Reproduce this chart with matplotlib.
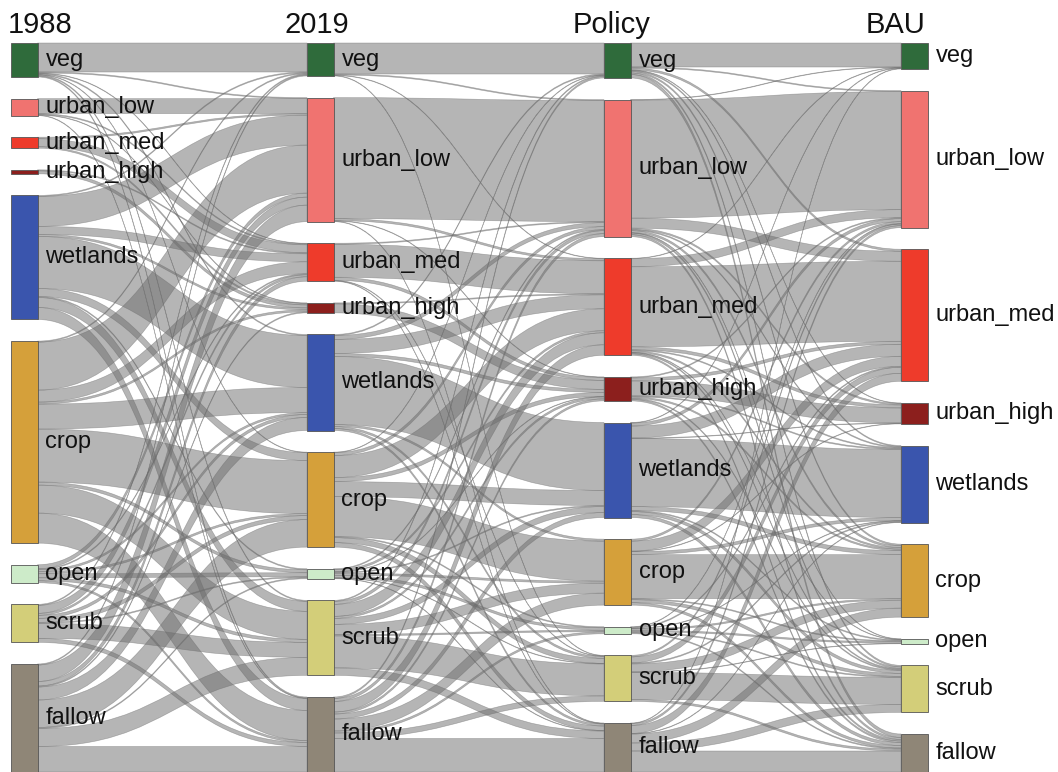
import numpy as np
import matplotlib
matplotlib.use("Agg")
import matplotlib.pyplot as plt
from matplotlib.path import Path
from matplotlib.patches import PathPatch, Rectangle

# ---- data -------------------------------------------------------------
stages = ["1988", "2019", "Policy", "BAU"]
classes = ["veg", "urban_low", "urban_med", "urban_high", "wetlands",
           "crop", "open", "scrub", "fallow"]
class_colors = ["#2f6b3b", "#f07370", "#ee3b2b", "#8c1f1d", "#3a55ad",
                "#d5a03a", "#cdebc9", "#d3ce79", "#8f8677"]

# rows = from-class, columns = to-class (same order as `classes`)
flows_1988_2019 = [
    [29, 1, 0.5, 0, 1, 0.5, 0, 1, 1],
    [0, 15, 1, 0.5, 0, 0, 0, 0, 0.5],
    [0, 1.5, 8, 1.5, 0, 0, 0, 0, 0],
    [0, 0, 1, 3, 0, 0, 0, 0, 0],
    [1, 30, 8, 2, 52, 8, 1, 10, 12],
    [1, 48, 12, 2, 25, 53, 3, 28, 30],
    [0, 4, 1, 0, 2, 2, 4, 3, 2],
    [1, 8, 2, 0, 3, 4, 1, 15, 4],
    [1, 16.5, 4.5, 1, 13, 27.5, 1, 18, 25.5],
]
flows_2019_policy = [
    [31, 1, 0.5, 0, 0, 0, 0, 0.5, 0],
    [0, 121, 2, 0.5, 0, 0, 0, 0, 0.5],
    [0, 1, 33, 3, 0, 0, 0, 0.5, 0.5],
    [0, 0, 1, 9, 0, 0, 0, 0, 0],
    [1, 4, 14, 3, 68, 2, 0, 2, 2],
    [0.5, 3, 22, 4, 15, 40, 1, 5, 4.5],
    [0, 1, 2, 0.5, 1, 2, 2.5, 0.5, 0.5],
    [1, 3, 12, 2, 6, 10, 1.5, 32, 7.5],
    [1.5, 3, 10.5, 2, 5, 12, 2, 5.5, 33.5],
]
flows_policy_bau = [
    [24, 1, 2, 0.5, 1, 1.5, 0, 1.5, 3.5],
    [0.5, 118, 10, 1.5, 1, 2, 0.5, 1.5, 2],
    [0.5, 8, 80, 3, 1, 1.5, 0.5, 1, 1.5],
    [0, 1, 3, 15, 1, 1.5, 0, 1, 1.5],
    [0.5, 3, 12, 0.5, 68, 4, 1, 3, 3],
    [0, 2, 10, 0.5, 3, 44, 1, 3, 2.5],
    [0, 0.5, 1, 0, 0.5, 1.5, 1.5, 1, 1],
    [0, 1.5, 6, 0, 1, 8, 0.5, 27, 2],
    [0.5, 2, 8, 0, 0.5, 9, 0, 8, 21],
]
transitions = [np.array(m, dtype=float)
               for m in (flows_1988_2019, flows_2019_policy, flows_policy_bau)]

# ---- layout -------------------------------------------------------------
W, H = 1058, 772
top, bottom = 43.0, 772.0
gap = 21.6
node_left = [11, 307, 604, 901]
node_w = 26.5

# node sizes of every stage follow from the transition matrices
stage_sizes = [transitions[0].sum(axis=1)] + [m.sum(axis=0) for m in transitions]
total = stage_sizes[0].sum()
scale = (bottom - top - gap * (len(classes) - 1)) / total

node_top = []
for sizes in stage_sizes:
    tops = top + np.concatenate([[0], np.cumsum(sizes[:-1] * scale)]) \
        + gap * np.arange(len(classes))
    node_top.append(tops)

fig = plt.figure(figsize=(W / 100, H / 100), dpi=100)
ax = fig.add_axes([0, 0, 1, 1])
ax.set_xlim(0, W)
ax.set_ylim(H, 0)
ax.axis("off")

ribbon_rgb = "#6c6c6c"

for k, m in enumerate(transitions):
    x0 = node_left[k] + node_w
    x1 = node_left[k + 1]
    xm = (x0 + x1) / 2
    src_off = node_top[k].copy()
    tgt_off = node_top[k + 1].copy()
    # outgoing ribbons stacked by target order, incoming by source order
    src_pos = np.zeros_like(m)
    tgt_pos = np.zeros_like(m)
    for i in range(len(classes)):
        for j in range(len(classes)):
            src_pos[i, j] = src_off[i]
            src_off[i] += m[i, j] * scale
    for j in range(len(classes)):
        for i in range(len(classes)):
            tgt_pos[i, j] = tgt_off[j]
            tgt_off[j] += m[i, j] * scale
    for i in range(len(classes)):
        for j in range(len(classes)):
            v = m[i, j]
            if v <= 0:
                continue
            h = v * scale
            s0, s1 = src_pos[i, j], src_pos[i, j] + h
            t0, t1 = tgt_pos[i, j], tgt_pos[i, j] + h
            verts = [(x0, s0), (xm, s0), (xm, t0), (x1, t0),
                     (x1, t1), (xm, t1), (xm, s1), (x0, s1), (x0, s0)]
            codes = [Path.MOVETO, Path.CURVE4, Path.CURVE4, Path.CURVE4,
                     Path.LINETO, Path.CURVE4, Path.CURVE4, Path.CURVE4,
                     Path.CLOSEPOLY]
            ax.add_patch(PathPatch(Path(verts, codes), facecolor=ribbon_rgb,
                                   edgecolor=ribbon_rgb, lw=0.45, alpha=0.5,
                                   zorder=1))

# nodes and their labels
label_font = dict(family=["Liberation Sans", "DejaVu Sans"], fontsize=17,
                  color="#111111")
for k, sizes in enumerate(stage_sizes):
    for i, name in enumerate(classes):
        y0 = node_top[k][i]
        h = sizes[i] * scale
        ax.add_patch(Rectangle((node_left[k], y0), node_w, h,
                               facecolor=class_colors[i],
                               edgecolor="#555555", lw=0.6, zorder=3))
        ax.text(node_left[k] + node_w + 8, y0 + h / 2, name,
                ha="left", va="center", zorder=4, **label_font)

# stage titles
title_font = dict(family=["Liberation Sans", "DejaVu Sans"], fontsize=21,
                  color="#111111", va="baseline", zorder=4)
ax.text(8, 33, stages[0], ha="left", **title_font)
ax.text(317, 33, stages[1], ha="center", **title_font)
ax.text(612, 33, stages[2], ha="center", **title_font)
ax.text(925, 33, stages[3], ha="right", **title_font)

fig.savefig("out.png", dpi=100, facecolor="white")
